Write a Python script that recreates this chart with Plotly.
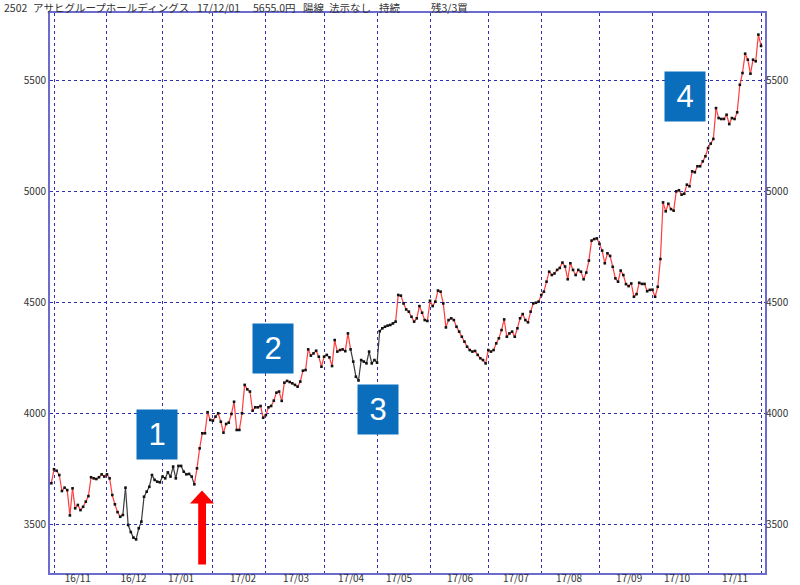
import plotly.graph_objects as go

# ---------------- data ----------------
month_labels = ["16/11", "16/12", "17/01", "17/02", "17/03", "17/04", "17/05",
                "17/06", "17/07", "17/08", "17/09", "17/10", "17/11"]
# trading-day index of the first session of each month (vertical grid)
month_start_idx = [1, 21, 42, 61, 81, 103, 123, 143, 165, 185, 207, 227, 248, 268]
# trading-day index where each month label is drawn
label_idx = [10, 31, 49, 72.4, 92.4, 113.2, 131.3, 154.3, 175.5, 195.5, 218.2, 236.3, 258.2]
y_ticks = [3500, 4000, 4500, 5000, 5500]

close_nov16 = [3685, 3748, 3741, 3722, 3650, 3665, 3654, 3540, 3662, 3572, 3587, 3564,
               3579, 3602, 3627, 3712, 3707, 3704, 3712, 3725, 3715, 3725]
close_dec16 = [3707, 3632, 3590, 3555, 3534, 3542, 3665, 3497, 3465, 3440, 3432, 3482,
               3512, 3624, 3647, 3669, 3722, 3700, 3692, 3689, 3715]
close_jan17 = [3707, 3734, 3715, 3760, 3707, 3763, 3763, 3737, 3725, 3727, 3715, 3680,
               3752, 3842, 3910, 3910, 4005, 3970]
close_feb17 = [3967, 3985, 4000, 3962, 3913, 3952, 3958, 3997, 4052, 3925, 3925, 4000,
               4128, 4108, 4098, 4012, 4027, 4027, 4033, 3980]
close_mar17 = [3992, 4027, 4033, 4057, 4093, 4098, 4056, 4138, 4146, 4141, 4135, 4128,
               4120, 4143, 4192, 4195, 4288, 4260, 4270, 4282, 4255, 4210]
close_apr17 = [4255, 4263, 4252, 4213, 4330, 4278, 4285, 4288, 4280, 4360, 4288, 4233,
               4165, 4148, 4240, 4233, 4225, 4278, 4225, 4240]
close_may17 = [4228, 4370, 4383, 4390, 4395, 4398, 4405, 4413, 4533, 4530, 4495, 4468,
               4458, 4435, 4413, 4428, 4483, 4453, 4420, 4416]
close_jun17 = [4507, 4483, 4503, 4553, 4548, 4495, 4387, 4420, 4428, 4420, 4390, 4368,
               4345, 4323, 4300, 4285, 4278, 4281, 4263, 4248, 4240, 4225]
close_jul17 = [4285, 4278, 4285, 4315, 4338, 4375, 4423, 4345, 4360, 4368, 4345, 4383,
               4428, 4447, 4420, 4410, 4458, 4495, 4498, 4503]
close_aug17 = [4533, 4548, 4593, 4638, 4623, 4630, 4646, 4655, 4679, 4661, 4604, 4676,
               4646, 4623, 4646, 4638, 4604, 4634, 4688, 4778, 4785, 4788]
close_sep17 = [4763, 4733, 4676, 4721, 4709, 4660, 4608, 4593, 4643, 4623, 4582, 4573,
               4585, 4525, 4537, 4588, 4583, 4583, 4550, 4556]
close_oct17 = [4557, 4525, 4570, 4695, 4950, 4910, 4944, 4920, 4913, 5000, 5005, 4985,
               4989, 5030, 5023, 5090, 5086, 5113, 5113, 5135, 5158]
close_nov17 = [5195, 5215, 5236, 5375, 5330, 5326, 5326, 5345, 5303, 5330, 5326, 5356,
               5480, 5533, 5620, 5593, 5530, 5593, 5586, 5706, 5655]

close = (close_nov16 + close_dec16 + close_jan17 + close_feb17 + close_mar17 + close_apr17 +
         close_may17 + close_jun17 + close_jul17 + close_aug17 + close_sep17 + close_oct17 +
         close_nov17)

# index spans (inclusive) drawn in black, everything else red
black_spans = [(26, 54), (113, 130)]

title_parts = [("2502", 3), ("アサヒグループホールディングス", 32), ("17/12/01", 196),
               ("5655.0円", 252), ("陽線", 302), ("法示なし", 328), ("持続", 378),
               ("残3/3買", 430)]
badges = [("1", 157, 434), ("2", 273.3, 348), ("3", 377.5, 409.5), ("4", 685, 96)]

# ---------------- figure ----------------
L, R, T, B = 50, 765, 13, 573
def px(xp):
    return (xp - L) / (R - L)
def py(yp):
    return (B - yp) / (B - T)

x = list(range(len(close)))

def is_black(i):
    return any(a <= i and i + 1 <= b for a, b in black_spans)

rx, ry, bx, by = [], [], [], []
for i in range(len(close) - 1):
    tx, ty = (bx, by) if is_black(i) else (rx, ry)
    tx += [x[i], x[i + 1], None]
    ty += [close[i], close[i + 1], None]

fig = go.Figure()
fig.add_trace(go.Scatter(x=rx, y=ry, mode="lines", line=dict(color="#ff3c3c", width=1.2),
                         hoverinfo="skip", showlegend=False))
fig.add_trace(go.Scatter(x=bx, y=by, mode="lines", line=dict(color="#3a3a3a", width=1.2),
                         hoverinfo="skip", showlegend=False))
fig.add_trace(go.Scatter(x=x, y=close, mode="markers",
                         marker=dict(symbol="square", size=2.6, color="#111111",
                                     line=dict(width=0)),
                         showlegend=False))
# invisible trace for the right-hand price axis
fig.add_trace(go.Scatter(x=x, y=close, mode="lines", line=dict(width=0), opacity=0,
                         yaxis="y2", hoverinfo="skip", showlegend=False))

yr = [3280.6, 5803.4]
grid = dict(gridcolor="#2f2fb0", griddash="dot", gridwidth=1)
tickfont = dict(family="Noto Sans CJK JP, Liberation Sans", size=10, color="#333333")

fig.update_layout(
    width=800, height=585,
    margin=dict(l=L, r=800 - R, t=T, b=585 - B, pad=0),
    plot_bgcolor="white", paper_bgcolor="white",
    xaxis=dict(range=[-0.51, 269.5], tickvals=label_idx, ticktext=month_labels,
               ticks="", showgrid=False, zeroline=False, automargin=False,
               ticklabelstandoff=-5,
               minor=dict(tickvals=month_start_idx, showgrid=True, ticks="", **grid),
               showline=True, linecolor="#6b6bd0", linewidth=2, mirror=True,
               tickfont=tickfont),
    yaxis=dict(range=yr, tickvals=y_ticks, ticks="", showgrid=True, zeroline=False,
               automargin=False,
               showline=True, linecolor="#6b6bd0", linewidth=2, mirror=True,
               tickfont=tickfont, **grid),
    yaxis2=dict(range=yr, tickvals=y_ticks, overlaying="y", side="right", ticks="",
                showgrid=False, zeroline=False, showline=False, automargin=False,
                tickfont=tickfont),
)

for text, xp in title_parts:
    fig.add_annotation(x=px(xp), y=py(7.5), xref="paper", yref="paper", text=text,
                       showarrow=False, xanchor="left", yanchor="middle", borderpad=0,
                       font=dict(family="Noto Sans CJK JP", size=10.5, color="#333333"))

for text, cx, cy in badges:
    fig.add_annotation(x=px(cx), y=py(cy), xref="paper", yref="paper", text=text,
                       showarrow=False, xanchor="center", yanchor="middle",
                       width=40, height=49, bgcolor="#0a6ebd", borderpad=0,
                       font=dict(family="Liberation Sans", size=31, color="white"))

# red arrow under the start of the rally
arrow_pts = [(198.2, 564.5), (198.2, 503.5), (190, 503.5), (202, 490.5),
             (214, 503.5), (206, 503.5), (206, 564.5)]
path = "M " + " L ".join(f"{px(a):.5f},{py(b):.5f}" for a, b in arrow_pts) + " Z"
fig.add_shape(type="path", path=path, xref="paper", yref="paper",
              fillcolor="#ff0000", line=dict(width=0))

fig.write_html("out.html", config={"displayModeBar": False},
               post_script="document.body.style.margin='0';document.body.style.overflow='hidden';")
